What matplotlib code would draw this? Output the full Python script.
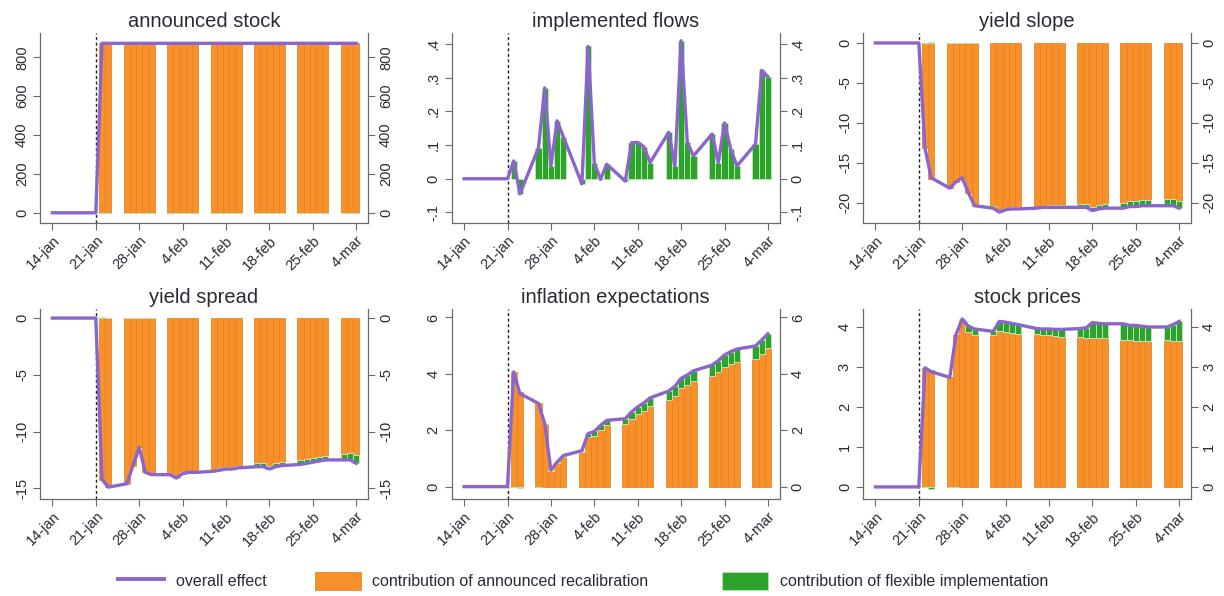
import numpy as np
import pandas as pd
import matplotlib
matplotlib.use("Agg")
import matplotlib.pyplot as plt
from matplotlib.lines import Line2D
from matplotlib.patches import Patch
from matplotlib.ticker import FixedLocator, FuncFormatter

plt.rcParams["font.family"] = ["Liberation Sans", "DejaVu Sans"]
plt.rcParams["axes.unicode_minus"] = False

# business days, 14 jan - 4 mar 2015
dates = pd.bdate_range("2015-01-14", "2015-03-04")
bar_dates = dates[6:]           # from 22 jan on
event_date = pd.Timestamp("2015-01-21")
tick_dates = pd.date_range("2015-01-14", "2015-03-04", freq="7D")

pre = [0, 0, 0, 0, 0, 0]

# overall effect (line), post-announcement values, 22 jan .. 4 mar
stock_total = pre + [872, 872, 872, 872, 872, 872, 872,
                     872, 872, 872, 872, 872,
                     872, 872, 872, 872, 872,
                     872, 872, 872, 872, 872,
                     872, 872, 872, 872, 872,
                     872, 872, 872]
flows_total = pre + [0.053, -0.045, 0.092, 0.27, 0.038, 0.172, 0.125,
                     -0.015, 0.393, 0.047, -0.002, 0.043,
                     -0.007, 0.107, 0.108, 0.095, 0.048,
                     0.138, 0.038, 0.41, 0.108, 0.068,
                     0.133, 0.048, 0.166, 0.088, 0.038,
                     0.103, 0.322, 0.303]
slope_total = pre + [-13.2, -16.9, -18.2, -17.4, -16.9, -18.8, -20.4,
                     -20.7, -21.2, -20.9, -20.8, -20.8,
                     -20.7, -20.6, -20.6, -20.6, -20.6,
                     -20.6, -20.6, -21.0, -20.8, -20.7,
                     -20.7, -20.5, -20.5, -20.4, -20.4,
                     -20.4, -20.4, -20.7]
spread_total = pre + [-14.2, -14.9, -14.6, -13.0, -11.4, -13.6, -13.8,
                      -13.8, -14.1, -13.7, -13.6, -13.6,
                      -13.5, -13.4, -13.3, -13.3, -13.2,
                      -13.1, -13.1, -13.3, -13.1, -13.0,
                      -12.9, -12.8, -12.7, -12.6, -12.5,
                      -12.5, -12.5, -12.8]
infl_total = pre + [4.07, 3.30, 2.95, 2.23, 0.59, 0.87, 1.10,
                    1.28, 1.88, 1.96, 2.17, 2.35,
                    2.41, 2.65, 2.83, 2.97, 3.15,
                    3.39, 3.56, 3.84, 3.96, 4.11,
                    4.31, 4.47, 4.67, 4.79, 4.88,
                    4.99, 5.20, 5.42]
equity_total = pre + [2.98, 2.88, 2.74, 3.81, 4.20, 4.02, 3.95,
                      3.89, 4.14, 4.12, 4.09, 4.06,
                      3.96, 3.95, 3.95, 3.94, 3.94,
                      3.96, 3.98, 4.11, 4.09, 4.08,
                      4.08, 4.04, 4.04, 4.02, 4.00,
                      4.00, 4.06, 4.14]

# contribution of flexible implementation (green), 22 jan .. 4 mar
stock_flex = [0, 0, 0, 0, 0, 0, 0,
              0, 0, 0, 0, 0,
              0, 0, 0, 0, 0,
              0, 0, 0, 0, 0,
              0, 0, 0, 0, 0,
              0, 0, 0]
flows_flex = flows_total[6:]
slope_flex = [0, 0.15, 0, 0, 0, 0, 0,
              -0.3, -0.3, -0.25, -0.2, -0.2,
              -0.2, -0.2, -0.25, -0.25, -0.25,
              -0.4, -0.45, -0.5, -0.5, -0.55,
              -0.6, -0.65, -0.7, -0.7, -0.75,
              -0.8, -0.9, -0.95]
spread_flex = [0.1, 0, 0, 0, 0, 0, 0,
               -0.1, -0.1, -0.1, -0.1, -0.1,
               -0.15, -0.15, -0.15, -0.15, -0.15,
               -0.3, -0.3, -0.3, -0.3, -0.3,
               -0.35, -0.35, -0.35, -0.35, -0.35,
               -0.5, -0.6, -0.7]
infl_flex = [0, -0.05, 0, 0.02, 0.03, 0.04, 0.05,
             0.05, 0.12, 0.15, 0.17, 0.18,
             0.2, 0.25, 0.27, 0.28, 0.3,
             0.3, 0.33, 0.35, 0.37, 0.38,
             0.4, 0.42, 0.44, 0.45, 0.46,
             0.45, 0.5, 0.52]
equity_flex = [0, -0.05, 0, 0, 0.02, 0.15, 0.15,
               0.1, 0.25, 0.25, 0.25, 0.24,
               0.14, 0.14, 0.15, 0.17, 0.2,
               0.22, 0.25, 0.38, 0.37, 0.36,
               0.4, 0.37, 0.38, 0.37, 0.36,
               0.33, 0.4, 0.48]

panels = [
    ("announced stock", stock_total, stock_flex, (-50, 925), [0, 200, 400, 600, 800]),
    ("implemented flows", flows_total, flows_flex, (-0.13, 0.433), [-0.1, 0, 0.1, 0.2, 0.3, 0.4]),
    ("yield slope", slope_total, slope_flex, (-22.5, 1.25), [-20, -15, -10, -5, 0]),
    ("yield spread", spread_total, spread_flex, (-15.9, 0.8), [-15, -10, -5, 0]),
    ("inflation expectations", infl_total, infl_flex, (-0.42, 6.3), [0, 2, 4, 6]),
    ("stock prices", equity_total, equity_flex, (-0.29, 4.45), [0, 1, 2, 3, 4]),
]

ORANGE = "#f8912b"
ORANGE_EDGE = "#e57d15"
GREEN = "#2ca42c"
GREEN_EDGE = "#bfe4b8"
PURPLE = "#8b65cc"
AXIS_C = "#6a6a6a"
TEXT_C = "#2a2a36"


def stata_num(v, pos=None):
    s = f"{v:g}"
    if s.startswith("0."):
        s = s[1:]
    elif s.startswith("-0."):
        s = "-" + s[2:]
    return s


def date_label(v, pos=None):
    d = matplotlib.dates.num2date(v)
    return f"{d.day}-{d.strftime('%b').lower()}"


fig = plt.figure(figsize=(12.24, 5.96), dpi=100)

lefts = [40, 451.7, 863]
tops = [33, 309]
W, H = 328, 189.5

for i, (title, total, flex, ylim, yticks) in enumerate(panels):
    r, c = divmod(i, 3)
    ax = fig.add_axes([lefts[c] / 1224, 1 - (tops[r] + H) / 596, W / 1224, H / 596])

    total = np.array(total, dtype=float)
    flex = np.array(flex, dtype=float)
    announced = total[6:] - flex
    same = np.sign(flex) == np.sign(announced)
    flex_bottom = np.where(same, announced, 0.0)

    ax.bar(bar_dates, announced, width=1.0, color=ORANGE, edgecolor=ORANGE_EDGE,
           linewidth=0.5, zorder=2)
    ax.bar(bar_dates, flex, width=1.0, bottom=flex_bottom, color=GREEN,
           edgecolor=GREEN_EDGE, linewidth=0.7, zorder=2)
    ax.plot(dates, total, color=PURPLE, lw=2.4, zorder=4, solid_joinstyle="round")
    ax.axvline(event_date, color="#222222", lw=1.0, ls=(0, (2.2, 1.8)), zorder=3)

    ax.set_xlim(event_date - pd.Timedelta(days=9), event_date + pd.Timedelta(days=43.9))
    ax.set_ylim(*ylim)

    ax.xaxis.set_major_locator(FixedLocator(matplotlib.dates.date2num(tick_dates)))
    ax.xaxis.set_major_formatter(FuncFormatter(date_label))
    ax.yaxis.set_major_locator(FixedLocator(yticks))
    ax.yaxis.set_major_formatter(FuncFormatter(stata_num))

    ax.tick_params(axis="both", direction="out", length=5, width=0.8,
                   color=AXIS_C, labelsize=10.5, labelcolor=TEXT_C, pad=3)
    ax.tick_params(axis="y", right=True, labelright=True, labelrotation=90)
    for lab in ax.get_yticklabels():
        lab.set_va("center")
    for lab in ax.get_xticklabels():
        lab.set_rotation(45)
        lab.set_ha("right")
        lab.set_rotation_mode("anchor")

    for side in ("left", "right", "bottom"):
        ax.spines[side].set_color(AXIS_C)
        ax.spines[side].set_linewidth(0.9)
    ax.spines["top"].set_visible(False)

    ax.set_title(title, fontsize=14.5, color=TEXT_C, pad=4)

# legend: one key per entry, placed like the stata legend row
handles = [
    Line2D([0], [0], color=PURPLE, lw=2.8),
    Patch(facecolor=ORANGE, edgecolor=ORANGE_EDGE, linewidth=0.5),
    Patch(facecolor=GREEN, edgecolor=GREEN_EDGE, linewidth=0.5),
]
labels = ["overall effect", "contribution of announced recalibration",
          "contribution of flexible implementation"]
key_x = [118, 315, 722]
for h, lab, x0 in zip(handles, labels, key_x):
    fig.legend([h], [lab], loc="center left", bbox_to_anchor=(x0 / 1224, 1 - 581 / 596),
               frameon=False, fontsize=11.5, handlelength=2.9, handleheight=1.4,
               handletextpad=0.7, borderpad=0, borderaxespad=0, labelcolor=TEXT_C)

fig.savefig("out.png", dpi=100)
